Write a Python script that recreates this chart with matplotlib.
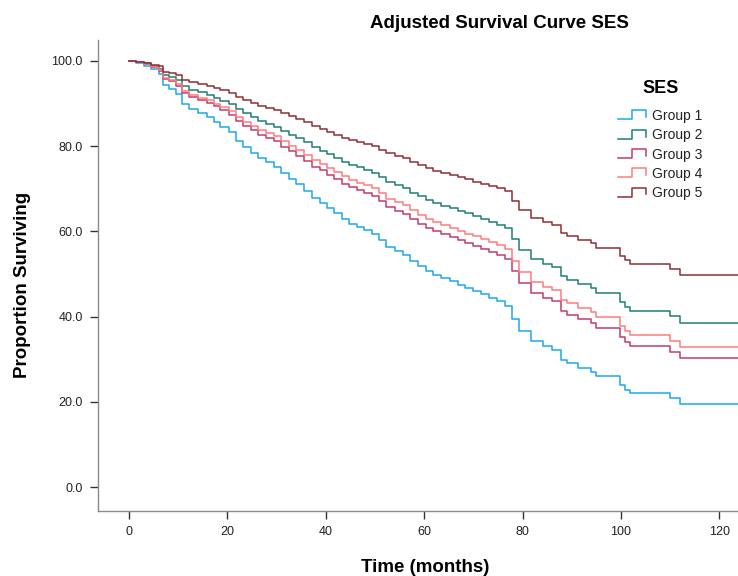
import matplotlib
matplotlib.use("Agg")
import matplotlib.pyplot as plt
from matplotlib.lines import Line2D
from matplotlib.legend_handler import HandlerLine2D

plt.rcParams['font.family'] = ['Liberation Sans', 'DejaVu Sans']

# ---- data ----
times = [0, 1.5, 3, 4.5, 6, 7, 8.2, 9.5, 10.7, 12.3, 14, 15.8, 17.2, 18.6, 20.3,
         21.8, 23.2, 24.8, 26.3, 27.8, 29.5, 31, 32.5, 34, 35.6, 37.2, 38.8, 40.2,
         41.7, 43.2, 44.8, 46.3, 47.8, 49.3, 50.8, 52.3, 54, 55.6, 57.1, 58.7, 60.3,
         61.9, 63.5, 65.2, 66.8, 68.4, 70, 71.6, 73.2, 74.8, 76.4, 77.9, 79.3, 81.8,
         84.2, 85.9, 87.9, 89.0, 91.3, 94.0, 95.0, 99.8, 100.8, 101.8, 110.0, 112.0]

group1 = [100, 99.6, 98.9, 98.0, 96.9, 94.3, 93.5, 92.2, 89.9, 88.6, 87.7, 86.8, 85.7,
          84.6, 83.2, 81.2, 79.8, 78.5, 77.2, 76.2, 75.1, 73.6, 72.2, 71.0, 69.5, 67.8,
          66.6, 65.4, 64.2, 62.9, 61.8, 61.0, 60.3, 59.4, 58.0, 56.4, 55.3, 54.5, 53.0,
          51.8, 50.8, 49.8, 49.0, 48.3, 47.5, 46.7, 45.9, 45.2, 44.4, 43.6, 42.6, 39.4,
          36.6, 34.2, 33.0, 32.2, 29.9, 29.1, 28.0, 27.1, 26.0, 24.0, 22.9, 22.0, 20.9, 19.5]

group2 = [100, 99.8, 99.4, 98.8, 98.2, 96.6, 96.2, 95.4, 94.0, 93.2, 92.6, 92.1, 91.4,
          90.7, 89.8, 88.6, 87.7, 86.8, 86.0, 85.3, 84.6, 83.6, 82.7, 81.9, 80.9, 79.7,
          78.9, 78.1, 77.2, 76.3, 75.5, 75.0, 74.5, 73.8, 72.8, 71.6, 70.8, 70.2, 69.1,
          68.2, 67.4, 66.6, 66.0, 65.4, 64.8, 64.2, 63.5, 62.9, 62.3, 61.6, 60.8, 58.1,
          55.7, 53.5, 52.4, 51.7, 49.5, 48.7, 47.6, 46.7, 45.6, 43.5, 42.3, 41.4, 40.1, 38.6]

group3 = [100, 99.7, 99.2, 98.5, 97.7, 95.8, 95.2, 94.2, 92.5, 91.5, 90.8, 90.2, 89.3,
          88.5, 87.4, 85.9, 84.8, 83.8, 82.7, 82.0, 81.1, 79.9, 78.8, 77.8, 76.6, 75.2,
          74.3, 73.3, 72.3, 71.2, 70.3, 69.6, 69.1, 68.3, 67.1, 65.8, 64.8, 64.1, 62.8,
          61.8, 60.9, 60.0, 59.3, 58.7, 58.0, 57.3, 56.6, 55.9, 55.2, 54.5, 53.6, 50.6,
          47.9, 45.6, 44.4, 43.6, 41.3, 40.5, 39.4, 38.5, 37.3, 35.2, 34.0, 33.0, 31.8, 30.2]

group4 = [100, 99.7, 99.3, 98.6, 97.9, 96.1, 95.5, 94.6, 93.0, 92.1, 91.4, 90.8, 90.0,
          89.2, 88.2, 86.8, 85.7, 84.8, 83.8, 83.1, 82.3, 81.1, 80.1, 79.2, 78.0, 76.7,
          75.8, 74.9, 73.9, 72.9, 72.0, 71.4, 70.8, 70.1, 69.0, 67.7, 66.8, 66.1, 64.9,
          63.9, 63.0, 62.2, 61.5, 60.9, 60.2, 59.5, 58.8, 58.2, 57.5, 56.8, 55.9, 53.0,
          50.4, 48.1, 47.0, 46.2, 43.9, 43.1, 42.0, 41.1, 39.9, 37.8, 36.6, 35.6, 34.4, 32.8]

group5 = [100, 99.8, 99.5, 99.1, 98.7, 97.5, 97.2, 96.6, 95.6, 95.0, 94.5, 94.1, 93.6,
          93.1, 92.4, 91.5, 90.8, 90.2, 89.5, 89.0, 88.5, 87.7, 87.0, 86.4, 85.6, 84.7,
          84.0, 83.4, 82.7, 82.0, 81.4, 80.9, 80.5, 80.0, 79.2, 78.3, 77.6, 77.1, 76.2,
          75.5, 74.8, 74.2, 73.7, 73.2, 72.7, 72.2, 71.7, 71.2, 70.7, 70.1, 69.4, 67.1,
          65.0, 63.2, 62.2, 61.6, 59.7, 59.0, 58.0, 57.2, 56.2, 54.3, 53.2, 52.3, 51.2, 49.7]

labels = ["Group 1", "Group 2", "Group 3", "Group 4", "Group 5"]
series = [group1, group2, group3, group4, group5]
colors = ["#1CA8EE", "#1F7F77", "#C23A6E", "#FF7A7C", "#8C3036"]

x_ticks = [0, 20, 40, 60, 80, 100, 120]
y_ticks = [0, 20, 40, 60, 80, 100]
XMAX = 123.8

# ---- figure ----
fig = plt.figure(figsize=(7.38, 5.76), dpi=100)
ax = fig.add_axes([98/738, 65/576, 640/738, 471/576])

for vals, lab, col in zip(series, labels, colors):
    ax.plot(times + [XMAX], vals + [vals[-1]], drawstyle='steps-post',
            color=col, lw=1.1, label=lab)

ax.set_xlim(-6.3, XMAX)
ax.set_ylim(-5.6, 104.9)
ax.set_xticks(x_ticks)
ax.set_xticklabels([str(v) for v in x_ticks])
ax.set_yticks(y_ticks)
ax.set_yticklabels([f"{v:.1f}" for v in y_ticks])
for s in ['top', 'right']:
    ax.spines[s].set_visible(False)
for s in ['left', 'bottom']:
    ax.spines[s].set_color('#8a8a8a')
    ax.spines[s].set_linewidth(1.0)
ax.tick_params(axis='both', direction='out', length=6, width=1.0,
               color='#333333', labelsize=9, labelcolor='#222222', pad=5)

fig.text(499/738, 1 - 23/576, "Adjusted Survival Curve SES", ha='center', va='center',
         fontsize=13.5, fontweight='bold')
fig.text(425/738, 1 - 567/576, "Time (months)", ha='center', va='center',
         fontsize=13.5, fontweight='bold')
fig.text(23/738, 1 - 285/576, "Proportion Surviving", ha='center', va='center',
         rotation=90, fontsize=13.5, fontweight='bold')


class StepHandler(HandlerLine2D):
    def create_artists(self, legend, orig_handle, xdescent, ydescent, width,
                       height, fontsize, trans):
        x0 = -xdescent
        y0 = -ydescent
        lo = y0 + 0.1 * height
        hi = y0 + 0.95 * height
        xs = [x0, x0 + 0.5 * width, x0 + 0.5 * width, x0 + width, x0 + width]
        ys = [lo, lo, hi, hi, y0 + 0.3 * height]
        ln = Line2D(xs, ys, color=orig_handle.get_color(), lw=1.1)
        ln.set_transform(trans)
        return [ln]


handles = ax.get_lines()
leg = ax.legend(handles=handles, labels=labels, handler_map={Line2D: StepHandler()},
                loc='upper left', bbox_to_anchor=(615/738, 1 - 77/576),
                bbox_transform=fig.transFigure, frameon=False,
                title="SES", title_fontproperties={'weight': 'bold', 'size': 13},
                fontsize=10, handlelength=2.0, handleheight=0.8,
                handletextpad=0.5, labelspacing=0.38, borderaxespad=0, borderpad=0.2)
leg._legend_box.sep = 8.8
for t in leg.get_texts():
    t.set_color('#222222')

fig.savefig("out.png", dpi=100)
